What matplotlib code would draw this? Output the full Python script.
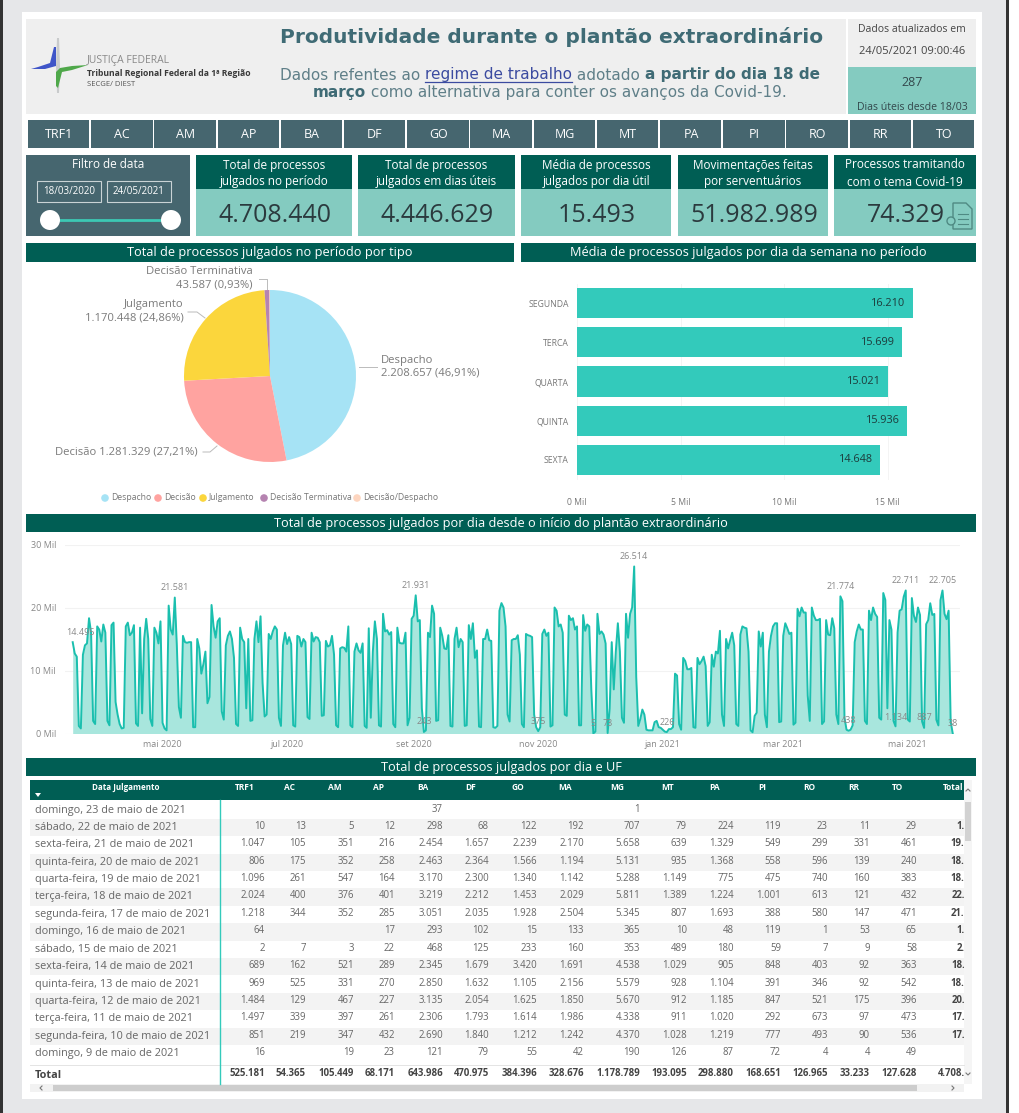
import matplotlib
matplotlib.use('Agg')
import matplotlib.pyplot as plt
import numpy as np
import pandas as pd
from matplotlib.patches import Rectangle, Circle, Polygon

plt.rcParams['font.family'] = ['Open Sans', 'DejaVu Sans']

W, H = 1019, 1113

# ---- data ----
ufs = ['TRF1', 'AC', 'AM', 'AP', 'BA', 'DF', 'GO', 'MA', 'MG', 'MT', 'PA', 'PI', 'RO', 'RR', 'TO']
kpi_titles = ['Total de processos\njulgados no período', 'Total de processos\njulgados em dias úteis',
              'Média de processos\njulgados por dia útil', 'Movimentações feitas\npor serventuários',
              'Processos tramitando\ncom o tema Covid-19']
kpi_values = ['4.708.440', '4.446.629', '15.493', '51.982.989', '74.329']

pie_names = ['Despacho', 'Decisão', 'Julgamento', 'Decisão Terminativa', 'Decisão/Despacho']
pie_values = [2208657, 1281329, 1170448, 43587, 4419]
pie_colors = ['#A6E3F5', '#FFA3A0', '#FBD63C', '#B583B0', '#FDD5BF']

week_days = ['SEGUNDA', 'TERCA', 'QUARTA', 'QUINTA', 'SEXTA']
week_means = [16210, 15699, 15021, 15936, 14648]

mar20 = [14495, 12700, 12200, 1200, 800, 12500, 14000, 14300, 18300, 16000, 2000, 1500, 17000, 16500]
apr20 = [14600, 17300, 16000, 2000, 1300, 17200, 17600, 5000, 3000, 1500, 800, 900, 17000, 17600, 15600,
         16000, 17200, 1600, 1200, 16800, 3200, 15000, 18200, 15000, 2300, 1200, 16800, 16000, 14300, 17800]
may20 = [1700, 800, 500, 20300, 16500, 15700, 21581, 14000, 4200, 2500, 15500, 14500, 14400, 14500, 14500, 1000,
         1000, 15000, 13500, 9500, 11000, 13000, 4800, 5800, 20400, 17000, 15200, 17800, 18300, 3500, 2200]
jun20 = [14000, 15500, 16200, 15000, 12000, 1500, 1200, 16800, 15000, 14500, 4000, 15000, 2000, 2100, 15000,
         17800, 14500, 18600, 8000, 2700, 3000, 15800, 15000, 16200, 17000, 16500, 2500, 1200, 14000, 16000]
jul20 = [14200, 15300, 14200, 1300, 1100, 15500, 15300, 13800, 15000, 14500, 2600, 2300, 16000, 14600, 15300,
         15200, 14500, 2800, 2900, 14700, 13800, 14000, 15500, 12500, 1300, 1000, 13500, 13700, 13600, 13000, 17000]
aug20 = [1300, 1000, 13000, 14300, 13200, 12800, 14300, 1200, 900, 16700, 2500, 13000, 17800, 15000, 1300, 1100,
         19000, 16200, 16400, 15700, 16100, 1500, 1000, 16800, 14400, 14300, 14300, 16000, 1300, 2500, 18200]
sep20 = [18700, 21931, 17800, 18000, 4000, 243, 500, 16000, 15300, 20300, 19000, 2000, 2100, 16800, 15500,
         13500, 13400, 15600, 1200, 1100, 15000, 16800, 13700, 15000, 14500, 1200, 1300, 17200, 15000, 17500]
oct20 = [12000, 13200, 1100, 1000, 15000, 15000, 16500, 14800, 14700, 1000, 900, 1200, 19500, 20700, 20000, 17000,
         3000, 1900, 14800, 15000, 15000, 15600, 12500, 1500, 1000, 15800, 15600, 15500, 15300, 3000, 1000]
nov20 = [375, 1000, 15800, 16500, 15500, 16000, 1100, 1300, 20000, 19500, 17000, 17300, 16000, 3000, 2800,
         18700, 18000, 18300, 16500, 17000, 1300, 1300, 18800, 16300, 17300, 17000, 7000, 5, 300, 19000]
dec20 = [15800, 16200, 15700, 14300, 73, 4000, 14500, 7000, 13000, 17500, 13000, 2500, 1700, 19000, 15200, 19000,
         20000, 26514, 9000, 1200, 2300, 3800, 3000, 600, 500, 500, 500, 1800, 2000, 1000, 900]
jan21 = [600, 300, 226, 700, 700, 1000, 9500, 9200, 1500, 600, 12000, 11500, 10200, 10200, 10400, 1000, 900,
         12000, 11000, 11500, 12200, 10700, 1200, 1800, 12500, 10600, 13000, 12700, 16300, 3000, 1200]
feb21 = [15000, 13500, 14800, 16000, 14000, 1500, 1200, 15700, 17000, 16800, 16700, 13000, 500, 200, 2800, 3300,
         16200, 13800, 16000, 3000, 1000, 13000, 15500, 17000, 17500, 17500, 1800, 1900]
mar21 = [15500, 17500, 16700, 15800, 16000, 1400, 1700, 19800, 18600, 20000, 19200, 19200, 6000, 2000, 20000, 18700,
         18000, 18000, 18200, 1500, 1900, 18000, 15700, 15600, 18300, 16700, 3000, 1500, 21774, 21000, 2500]
apr21 = [600, 438, 600, 1300, 14500, 16200, 17300, 16500, 16500, 2000, 1500, 19500, 18000, 20000, 19000, 18500,
         2500, 2200, 22300, 21200, 4000, 18000, 16500, 2000, 1134, 16000, 19500, 19700, 21700, 22711]
may21 = [2200, 1900, 21500, 18700, 17700, 20000, 18800, 1900, 887, 17346, 17997, 20677, 18820, 18974, 2175, 1285,
         21148, 22705, 18990, 18145, 19505, 1912, 38]
daily = mar20 + apr20 + may20 + jun20 + jul20 + aug20 + sep20 + oct20 + nov20 + dec20 + jan21 + feb21 + mar21 + apr21 + may21

# dates with a number on the line chart, and how far the number sits from the point (px)
peak_labels = [('2020-03-18', 8, 10), ('2020-05-07', 0, 10), ('2020-09-02', 0, 10), ('2020-09-06', 0, 10),
               ('2020-11-01', 0, 10), ('2020-11-28', 0, 10), ('2020-12-05', 0, 10), ('2020-12-18', 0, 10),
               ('2021-01-03', 0, 10), ('2021-03-29', 0, 10), ('2021-04-02', 0, 10), ('2021-04-25', 0, 9),
               ('2021-04-30', 0, 10), ('2021-05-09', 0, 10), ('2021-05-18', 0, 10), ('2021-05-23', 0, 10)]
month_ticks = ['2020-05-01', '2020-07-01', '2020-09-01', '2020-11-01', '2021-01-01', '2021-03-01', '2021-05-01']
month_labels = ['mai 2020', 'jul 2020', 'set 2020', 'nov 2020', 'jan 2021', 'mar 2021', 'mai 2021']

table_days = ['domingo, 23 de maio de 2021', 'sábado, 22 de maio de 2021', 'sexta-feira, 21 de maio de 2021',
              'quinta-feira, 20 de maio de 2021', 'quarta-feira, 19 de maio de 2021', 'terça-feira, 18 de maio de 2021',
              'segunda-feira, 17 de maio de 2021', 'domingo, 16 de maio de 2021', 'sábado, 15 de maio de 2021',
              'sexta-feira, 14 de maio de 2021', 'quinta-feira, 13 de maio de 2021', 'quarta-feira, 12 de maio de 2021',
              'terça-feira, 11 de maio de 2021', 'segunda-feira, 10 de maio de 2021', 'domingo, 9 de maio de 2021']
# one list per table row, same order as ufs, '' where the cell is empty
table_rows = [
    ['', '', '', '', '37', '', '', '', '1', '', '', '', '', '', ''],
    ['10', '13', '5', '12', '298', '68', '122', '192', '707', '79', '224', '119', '23', '11', '29'],
    ['1.047', '105', '351', '216', '2.454', '1.657', '2.239', '2.170', '5.658', '639', '1.329', '549', '299', '331', '461'],
    ['806', '175', '352', '258', '2.463', '2.364', '1.566', '1.194', '5.131', '935', '1.368', '558', '596', '139', '240'],
    ['1.096', '261', '547', '164', '3.170', '2.300', '1.340', '1.142', '5.288', '1.149', '775', '475', '740', '160', '383'],
    ['2.024', '400', '376', '401', '3.219', '2.212', '1.453', '2.029', '5.811', '1.389', '1.224', '1.001', '613', '121', '432'],
    ['1.218', '344', '352', '285', '3.051', '2.035', '1.928', '2.504', '5.345', '807', '1.693', '388', '580', '147', '471'],
    ['64', '', '', '17', '293', '102', '15', '133', '365', '10', '48', '119', '1', '53', '65'],
    ['2', '7', '3', '22', '468', '125', '233', '160', '353', '489', '180', '59', '7', '9', '58'],
    ['689', '162', '521', '289', '2.345', '1.679', '3.420', '1.691', '4.538', '1.029', '905', '848', '403', '92', '363'],
    ['969', '525', '331', '270', '2.850', '1.632', '1.105', '2.156', '5.579', '928', '1.104', '391', '346', '92', '542'],
    ['1.484', '129', '467', '227', '3.135', '2.054', '1.625', '1.850', '5.670', '912', '1.185', '847', '521', '175', '396'],
    ['1.497', '339', '397', '261', '2.306', '1.793', '1.614', '1.986', '4.338', '911', '1.020', '292', '673', '97', '473'],
    ['851', '219', '347', '432', '2.690', '1.840', '1.212', '1.242', '4.370', '1.028', '1.219', '777', '493', '90', '536'],
    ['16', '', '19', '23', '121', '79', '55', '42', '190', '126', '87', '72', '4', '4', '49'],
]
row_totals = ['38', '1.912', '19.505', '18.145', '18.990', '22.705', '21.148', '1.285', '2.175', '18.974', '18.820',
              '20.677', '17.997', '17.346', '887']
uf_totals = ['525.181', '54.365', '105.449', '68.171', '643.986', '470.975', '384.396', '328.676', '1.178.789',
             '193.095', '298.880', '168.651', '126.965', '33.233', '127.628']
grand_total = '4.708.440'

# ---- colours ----
dark_green = '#005E54'
slate = '#46666F'
teal_card = '#84CBC0'
bar_teal = '#33CABB'
line_teal = '#1ABFAE'
grey_text = '#777777'


def br_number(v):
    return f'{v:,}'.replace(',', '.')


def axes_px(left, top, right, bottom):
    # axes placed by pixel edges of the picture
    return fig.add_axes([left / W, 1 - bottom / H, (right - left) / W, (bottom - top) / H])


fig = plt.figure(figsize=(W / 100, H / 100), dpi=100, facecolor='#E6E7E9')
bg = fig.add_axes([0, 0, 1, 1])
bg.set_xlim(0, W)
bg.set_ylim(H, 0)
bg.axis('off')


def box(x0, y0, x1, y1, color, **kw):
    bg.add_patch(Rectangle((x0, y0), x1 - x0, y1 - y0, facecolor=color, edgecolor='none', **kw))


def txt(x, y, s, size=8, color='#666666', ha='center', weight='normal', **kw):
    return bg.text(x, y, s, fontsize=size, color=color, ha=ha, va='center', fontweight=weight, **kw)


def banner(x0, y0, x1, y1, title):
    box(x0, y0, x1, y1, dark_green)
    txt((x0 + x1) / 2, (y0 + y1) / 2, title, size=9.2, color='white')


def chevron(xs, ys):
    bg.plot(xs, ys, color='#777777', lw=0.8)


# page frame
box(0, 0, 3, H, '#333333')
box(1006, 0, 1009, H, '#333333')
box(1009, 0, W, H, 'white')
box(22, 12, 982, 1099, 'white')

# ---- header ----
box(26, 19, 846, 114, '#EFEFEF')
box(848, 19, 976, 67, '#EFEFEF')
box(848, 67, 976, 114, teal_card)

bg.add_patch(Polygon([(57, 38), (59, 38), (60, 66), (59, 93), (57, 93), (56, 66)], facecolor='#C9CBCC', edgecolor='none'))
bg.add_patch(Polygon([(31, 69), (38, 67), (50, 63), (54, 47), (56, 47), (56, 66), (45, 69)], facecolor='#3F55C8', edgecolor='none'))
bg.add_patch(Polygon([(56, 72), (60, 68), (72, 66), (88, 65), (72, 70), (62, 72), (58, 88), (56, 86)], facecolor='#4FA84A', edgecolor='none'))
txt(87, 61, 'JUSTIÇA FEDERAL', size=7.5, color='#8A8A8A', ha='left')
txt(87, 73, 'Tribunal Regional Federal da 1ª Região', size=6.2, color='#3A3A3A', ha='left', weight='bold')
txt(87, 84, 'SECGE/ DIEST', size=5.5, color='#555555', ha='left')

head_color = '#3F6B75'
txt(552, 37, 'Produtividade durante o plantão extraordinário', size=14.5, color=head_color,
    weight='bold', family=['DejaVu Sans'])


def mixed_line(cx, y, parts, size):
    # one centred line made of runs with their own weight and colour
    rend = fig.canvas.get_renderer()
    runs = []
    total = 0
    for s, weight, color in parts:
        t = bg.text(0, y, s, fontsize=size, va='center', ha='left', fontweight=weight, color=color,
                    family=['DejaVu Sans'])
        w = t.get_window_extent(rend).width
        runs.append((t, w))
        total += w
    x = cx - total / 2
    for t, w in runs:
        t.set_x(x)
        x += w
    return runs


sub_color = '#5F7F88'
link_color = '#3B4BA0'
first = mixed_line(550, 75, [('Dados refentes ao ', 'normal', sub_color), ('regime de trabalho', 'normal', link_color),
                             (' adotado ', 'normal', sub_color), ('a partir do dia 18 de', 'bold', head_color)], 11)
mixed_line(550, 92, [('março', 'bold', head_color),
                     (' como alternativa para conter os avanços da Covid-19.', 'normal', sub_color)], 11)
# underline of the link, measured from the run above
link, link_w = first[1]
bg.plot([link.get_position()[0], link.get_position()[0] + link_w], [82, 82], color=link_color, lw=0.9)

txt(912, 29, 'Dados atualizados em', size=7.5, color='#444444')
txt(912, 52, '24/05/2021 09:00:46', size=8, color='#444444')
txt(912, 83, '287', size=9, color='#33484C')
txt(912, 107, 'Dias úteis desde 18/03', size=7.6, color='#33484C')

# ---- UF buttons ----
for i, uf in enumerate(ufs):
    x0 = 28 + i * 63.2
    box(x0, 120, x0 + 61.5, 148, slate)
    txt(x0 + 31, 135, uf, size=9, color='white')

# ---- date filter ----
box(26, 155, 190, 236, slate)
txt(108, 165, 'Filtro de data', size=8.5, color='white')
for x0, x1, s in [(37, 101, '18/03/2020'), (107, 171, '24/05/2021')]:
    bg.add_patch(Rectangle((x0, 181), x1 - x0, 21, facecolor='none', edgecolor='#C9D3D5', lw=0.8))
    txt((x0 + x1) / 2, 191.5, s, size=7, color='white')
bg.plot([50, 171], [220, 220], color='#3CC8B4', lw=2)
for x in [50, 171]:
    bg.add_patch(Circle((x, 220), 10, facecolor='white', edgecolor='none', zorder=3))

# ---- KPI cards ----
kpi_edges = [(196.5, 352), (358.5, 514.6), (521, 671.4), (678, 828), (834, 976)]
for (x0, x1), title, value in zip(kpi_edges, kpi_titles, kpi_values):
    box(x0, 155, x1, 189, dark_green)
    box(x0, 189, x1, 236, teal_card)
    cx = (x0 + x1) / 2
    a, b = title.split('\n')
    txt(cx, 165, a, size=8.5, color='white')
    txt(cx, 182, b, size=8.5, color='white')
    txt(cx + 1, 215, value, size=18, color='#2B3A3E')

# document icon of the last card
bg.add_patch(Polygon([(953, 203), (966, 203), (972, 209), (972, 229), (953, 229)], facecolor='none', edgecolor='#4F8A83', lw=1))
bg.add_patch(Circle((951, 221), 4, facecolor=teal_card, edgecolor='#4F8A83', lw=1))
bg.plot([958, 968], [214, 214], color='#4F8A83', lw=0.8)
bg.plot([958, 968], [219, 219], color='#4F8A83', lw=0.8)
bg.plot([958, 968], [224, 224], color='#4F8A83', lw=0.8)

# ---- pie ----
banner(26, 243, 514, 262, 'Total de processos julgados no período por tipo')
ax_pie = axes_px(184, 290, 356, 462)
ax_pie.pie(pie_values, colors=pie_colors, startangle=90, counterclock=False, radius=1.0,
           wedgeprops={'linewidth': 0})
ax_pie.set_xlim(-1, 1)
ax_pie.set_ylim(-1, 1)

lab = '#7B7B7B'
lab_size = 8.1
txt(381, 360, 'Despacho', size=lab_size, color=lab, ha='left')
txt(381, 373, '2.208.657 (46,91%)', size=lab_size, color=lab, ha='left')
bg.plot([359, 377], [367, 367], color='#BBBBBB', lw=0.7)
txt(198, 452, 'Decisão 1.281.329 (27,21%)', size=lab_size, color=lab, ha='right')
bg.plot([203, 210, 217], [452, 452, 446], color='#BBBBBB', lw=0.7)
txt(184, 305, 'Julgamento', size=lab_size, color=lab, ha='right')
txt(184, 318, '1.170.448 (24,86%)', size=lab_size, color=lab, ha='right')
bg.plot([188, 197, 205], [312, 312, 318], color='#BBBBBB', lw=0.7)
txt(253, 272, 'Decisão Terminativa', size=lab_size, color=lab, ha='right')
txt(253, 285, '43.587 (0,93%)', size=lab_size, color=lab, ha='right')
bg.plot([259, 267, 267], [279, 279, 289], color='#BBBBBB', lw=0.7)

legend_x = [(105, 111), (158, 164), (203, 209), (264, 270), (357, 363)]
for (dx, tx), name, c in zip(legend_x, pie_names, pie_colors):
    bg.add_patch(Circle((dx, 498), 3.8, facecolor=c, edgecolor='none'))
    txt(tx, 498, name, size=6.2, color=grey_text, ha='left')

# ---- week bars ----
banner(521, 243, 976, 262, 'Média de processos julgados por dia da semana no período')
ax_bar = axes_px(577, 283.5, 976, 479.5)
ax_bar.barh(range(5), week_means, height=0.767, color=bar_teal)
ax_bar.set_xlim(0, 399 / 0.0207)
ax_bar.set_ylim(4.5, -0.5)
ax_bar.set_yticks(range(5), week_days)
ax_bar.set_xticks([0, 5000, 10000, 15000], ['0 Mil', '5 Mil', '10 Mil', '15 Mil'])
ax_bar.tick_params(length=0, labelsize=6.2, labelcolor=grey_text, pad=5.8)
ax_bar.tick_params(axis='x', pad=13.2)
ax_bar.grid(axis='x', color='#F4F4F4', lw=0.7)
ax_bar.set_axisbelow(True)
for s in ax_bar.spines.values():
    s.set_visible(False)
for i, v in enumerate(week_means):
    ax_bar.annotate(br_number(v), (v, i), xytext=(-7, 0), textcoords='offset pixels', ha='right', va='center',
                    fontsize=7.8, color='#1D3B3B')

# ---- daily line ----
banner(26, 514, 976, 532, 'Total de processos julgados por dia desde o início do plantão extraordinário')
dates = pd.date_range('2020-03-18', periods=len(daily), freq='D')
ax_line = axes_px(65, 544.5, 960, 733.5)
ax_line.fill_between(dates, daily, 0, color='#A8E6DD', lw=0)
ax_line.plot(dates, daily, color=line_teal, lw=1.4, solid_joinstyle='round')
px_day = 880.0 / (len(daily) - 1)
ax_line.set_xlim(dates[0] - pd.Timedelta(days=7.7 / px_day), dates[-1] + pd.Timedelta(days=7.3 / px_day))
ax_line.set_ylim(0, 30000)
ax_line.set_yticks([0, 10000, 20000, 30000], ['0 Mil', '10 Mil', '20 Mil', '30 Mil'])
ax_line.set_xticks(pd.to_datetime(month_ticks), month_labels)
ax_line.tick_params(length=0, labelsize=6.5, labelcolor='#888888', pad=4.5)
ax_line.tick_params(axis='y', pad=6.5)
ax_line.grid(axis='y', color='#F2F2F2', lw=0.8)
ax_line.set_axisbelow(True)
for s in ax_line.spines.values():
    s.set_visible(False)
series = pd.Series(daily, index=dates)
for day, dx, dy in peak_labels:
    d = pd.Timestamp(day)
    ax_line.annotate(br_number(int(series[d])), (d, series[d]), xytext=(dx, dy), textcoords='offset pixels',
                     ha='center', va='center', fontsize=6.5, color='#888888', annotation_clip=False)

# ---- table ----
banner(26, 758, 976, 776, 'Total de processos julgados por dia e UF')
box(30, 780, 964, 800, dark_green)
col_centers = [245, 290, 335, 379, 423, 471, 518, 565, 617, 668, 715, 762, 809, 854, 898]
col_rights = [265, 306, 354, 395, 443, 489, 537, 584, 640, 687, 734, 781, 828, 870, 917]
total_right = 981
txt(126, 787, 'Data Julgamento', size=5.8, color='white', weight='bold')
for cx, uf in zip(col_centers, ufs):
    txt(cx, 787, uf, size=6, color='white', weight='bold')
txt(943, 787, 'Total', size=6, color='white', ha='left', weight='bold')
bg.add_patch(Polygon([(35, 793), (41, 793), (38, 797)], facecolor='white', edgecolor='none'))

# clip for the total column, cut by the vertical scrollbar
clip = Rectangle((30, 780), 934, 310, transform=bg.transData)
row_h = 17.4
for i, (day, row, tot) in enumerate(zip(table_days, table_rows, row_totals)):
    y = 810 + i * row_h
    if i % 2 == 1:
        box(30, y - row_h / 2, 964, y + row_h / 2, '#F3F3F3')
    txt(35, y, day, size=7.8, color='#666666', ha='left')
    for xr, s in zip(col_rights, row):
        txt(xr, y - 1, s, size=6.9, color='#666666', ha='right')
    t = txt(total_right, y - 1, tot, size=6.9, color='#444444', ha='right', weight='bold', clip_on=True)
    t.set_clip_path(clip)

txt(35, 1075, 'Total', size=7.8, color='#444444', ha='left', weight='bold')
for xr, s in zip(col_rights, uf_totals):
    txt(xr, 1074, s, size=6.9, color='#444444', ha='right', weight='bold')
t = txt(total_right, 1074, grand_total, size=6.9, color='#444444', ha='right', weight='bold', clip_on=True)
t.set_clip_path(clip)
bg.plot([30, 964], [1065, 1065], color='#E4E4E4', lw=0.7)
bg.plot([220, 220], [800, 1084], color=bar_teal, lw=1)

# scrollbars
box(30, 1084, 964, 1092, '#F2F2F2')
box(53, 1085, 917, 1091, '#CDCDCD')
chevron([42, 40, 42], [1086, 1088, 1090])
chevron([952, 954, 952], [1086, 1088, 1090])
box(964, 780, 972, 1084, '#F5F5F5')
box(965, 802, 971, 841, '#D2D2D2')
chevron([966, 968, 970], [791, 789, 791])
chevron([966, 968, 970], [1073, 1075, 1073])

fig.savefig('out.png', dpi=100, facecolor=fig.get_facecolor())
